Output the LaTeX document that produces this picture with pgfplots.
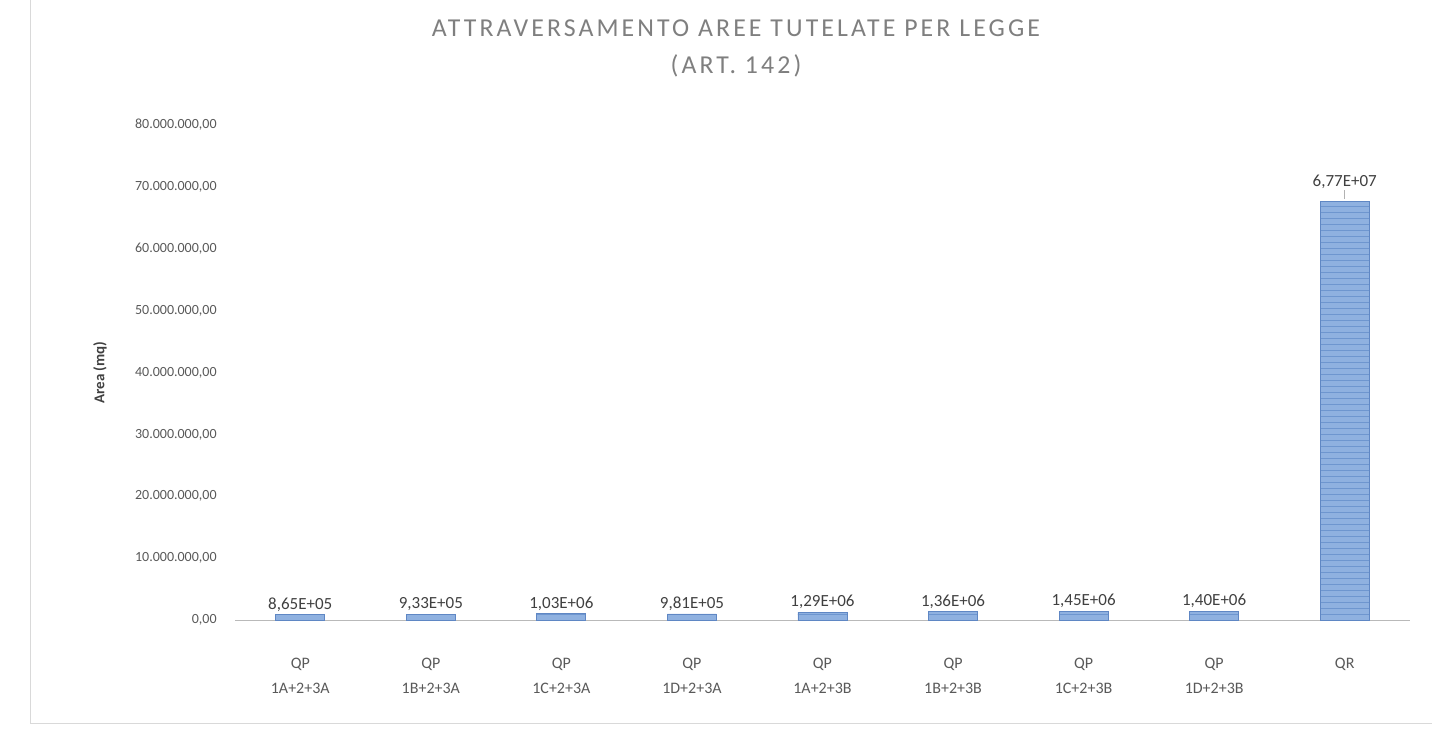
\documentclass[border=0pt]{standalone}
\usepackage{fontspec}
\setmainfont{Carlito}
\newfontfamily\titlefont[LetterSpace=12]{Carlito}
\usepackage{pgfplots}
\pgfplotsset{compat=1.18}
\usetikzlibrary{patterns}
\definecolor{barfill}{HTML}{8FB1E0}
\definecolor{barline}{HTML}{6E96CF}
\definecolor{bardraw}{HTML}{5F87C4}
\definecolor{tickgray}{HTML}{595959}
\definecolor{titlegray}{HTML}{7F7F7F}
\definecolor{labgray}{HTML}{404040}
\definecolor{framegray}{HTML}{D9D9D9}
\pgfplotstableread{
x y label
0 865000 8,65E+05
1 933000 9,33E+05
2 1030000 1,03E+06
3 981000 9,81E+05
4 1290000 1,29E+06
5 1360000 1,36E+06
6 1450000 1,45E+06
7 1400000 1,40E+06
}\qptable
\pgfplotstableread{
x y label
8 67700000 6,77E+07
}\qrtable
\begin{document}
\begin{tikzpicture}[x=0.5pt,y=0.5pt]
\path[use as bounding box] (0,0) rectangle (1432,741);
\draw[framegray] (30,741) -- (30,18) -- (1432,18);
\node[font=\titlefont\fontsize{12.9}{18.5}\selectfont, text=titlegray, align=center] at (736,693) {ATTRAVERSAMENTO AREE TUTELATE PER LEGGE\\(ART. 142)};
\begin{axis}[
  at={(117.5pt,60.5pt)}, anchor=south west,
  width=587.5pt, height=247.5pt, scale only axis,
  xmin=-0.5, xmax=8.5, ymin=0, ymax=80000000,
  ybar, bar width=24.5pt, bar shift=0pt,
  axis x line*=bottom, axis y line*=left,
  x axis line style={draw=gray!55, -},
  y axis line style={draw=none},
  major tick length=0pt,
  scaled y ticks=false,
  ytick={0,10000000,20000000,30000000,40000000,50000000,60000000,70000000,80000000},
  yticklabels={{0,00},{10.000.000,00},{20.000.000,00},{30.000.000,00},{40.000.000,00},{50.000.000,00},{60.000.000,00},{70.000.000,00},{80.000.000,00}},
  yticklabel style={font=\fontsize{7}{8}\selectfont, text=tickgray, inner sep=0pt, xshift=-9pt},
  xtick={0,1,2,3,4,5,6,7,8},
  xticklabels={{QP\\1A+2+3A},{QP\\1B+2+3A},{QP\\1C+2+3A},{QP\\1D+2+3A},{QP\\1A+2+3B},{QP\\1B+2+3B},{QP\\1C+2+3B},{QP\\1D+2+3B},{QR}},
  xticklabel style={font=\fontsize{8}{12.5}\selectfont, text=tickgray, align=center, anchor=north, inner sep=0pt, yshift=-19pt},
  ylabel={Area (mq)},
  ylabel style={font=\bfseries\fontsize{7.5}{9}\selectfont, text=labgray, at={(axis description cs:-0.1149,0.5)}, anchor=center},
  nodes near coords,
  point meta=explicit symbolic,
  nodes near coords style={font=\fontsize{8.5}{10}\selectfont, text=labgray, inner sep=1.5pt},
  clip=false,
]
\addplot[fill=barfill, draw=bardraw, line width=0.4pt, postaction={pattern=horizontal lines, pattern color=barline}] table[x=x, y=y, meta=label] {\qptable};
\addplot[fill=barfill, draw=bardraw, line width=0.4pt, postaction={pattern=horizontal lines, pattern color=barline}, nodes near coords style={yshift=4.5pt}] table[x=x, y=y, meta=label] {\qrtable};
\draw[gray!60, line width=0.4pt] ([yshift=1pt]axis cs:8,67700000) -- ++(0pt,4.5pt);
\end{axis}
\end{tikzpicture}
\end{document}
